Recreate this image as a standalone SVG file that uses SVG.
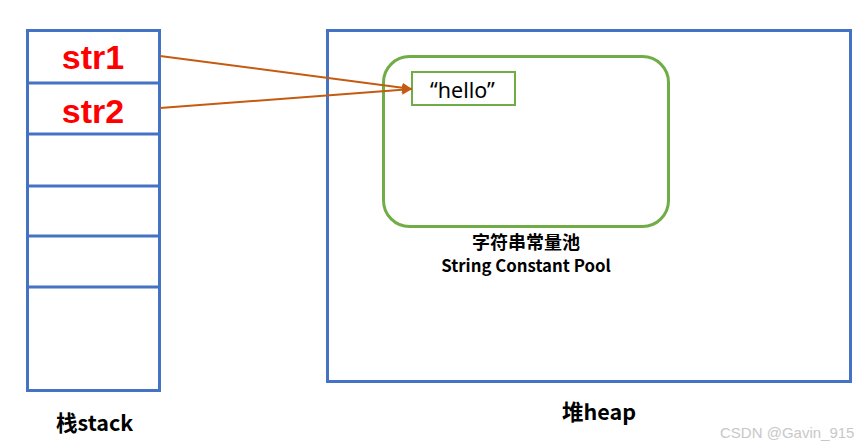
<svg xmlns="http://www.w3.org/2000/svg" width="865" height="448" viewBox="0 0 865 448">
<style>
.blue{fill:none;stroke:#4472C4;stroke-width:3}
.green{fill:none;stroke:#70AD47}
.red{font-family:"Liberation Sans",Arial,sans-serif;font-weight:bold;font-size:34px;fill:#FF0000;text-anchor:middle}
.lbl{font-family:"Noto Sans CJK SC","Open Sans",sans-serif;font-weight:bold;fill:#000}
.conn{stroke:#C55A11;stroke-width:2;fill:none}
</style>
<defs>
<marker id="ah" viewBox="0 0 10 10" refX="10" refY="5" markerWidth="5" markerHeight="5" orient="auto" markerUnits="strokeWidth">
<path d="M0,0 L10,5 L0,10 z" fill="#C55A11"/>
</marker>
</defs>
<rect width="865" height="448" fill="#fff"/>
<g id="stack">
<rect class="blue" x="27.5" y="30.5" width="132" height="360"/>
<line class="blue" x1="27.5" y1="83" x2="159.5" y2="83"/>
<line class="blue" x1="27.5" y1="134" x2="159.5" y2="134"/>
<line class="blue" x1="27.5" y1="186" x2="159.5" y2="186"/>
<line class="blue" x1="27.5" y1="236" x2="159.5" y2="236"/>
<line class="blue" x1="27.5" y1="287" x2="159.5" y2="287"/>
<text class="red" x="93" y="69">str1</text>
<text class="red" x="93" y="123">str2</text>
<text class="lbl" x="56" y="431" font-size="21.5">栈stack</text>
</g>
<g id="heap">
<rect class="blue" x="327.5" y="30.5" width="523" height="351"/>
<text class="lbl" x="562" y="420" font-size="21.5">堆heap</text>
</g>
<g id="pool">
<rect class="green" stroke-width="3" x="383.5" y="56.5" width="285" height="170" rx="26"/>
<text class="lbl" x="526" y="249" font-size="18" font-weight="600" text-anchor="middle">字符串常量池</text>
<text class="lbl" x="526" y="272" font-size="16.8" font-weight="600" text-anchor="middle">String Constant Pool</text>
</g>
<g id="hello">
<rect class="green" stroke-width="2" x="412" y="72" width="103" height="33"/>
<text x="430" y="98" font-family="'Noto Sans','Open Sans',sans-serif" font-size="21.5" fill="#000">“hello”</text>
</g>
<g id="connectors">
<line class="conn" x1="160" y1="56" x2="412" y2="89" marker-end="url(#ah)"/>
<line class="conn" x1="160" y1="108" x2="412" y2="89" marker-end="url(#ah)"/>
</g>
<text x="720" y="438" font-family="'Liberation Sans',Arial,sans-serif" font-size="15" fill="#C8C8C8">CSDN @Gavin_915</text>
</svg>
